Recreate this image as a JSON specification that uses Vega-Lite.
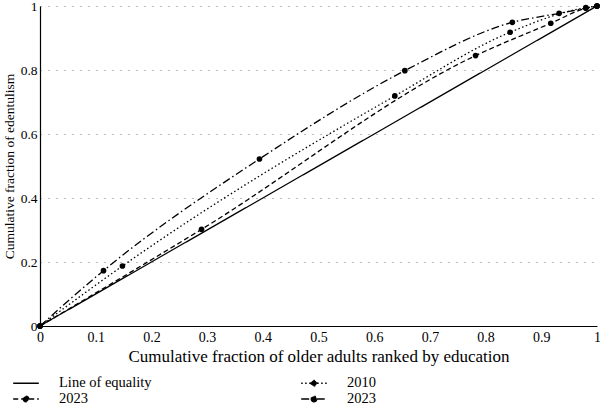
{
  "$schema": "https://vega.github.io/schema/vega-lite/v6.json",
  "width": 557,
  "height": 320,
  "autosize": "none",
  "padding": {"left": 40, "top": 6, "right": 3, "bottom": 79},
  "background": "white",
  "config": {
    "view": {"stroke": null},
    "font": "Liberation Serif",
    "axis": {"labelFont": "Liberation Serif", "titleFont": "Liberation Serif", "labelFontSize": 13, "titleFontSize": 13.5, "titleFontWeight": "normal", "labelColor": "black", "titleColor": "black", "domainColor": "black", "domainWidth": 1.2, "ticks": false},
    "legend": {"labelFont": "Liberation Serif", "labelFontSize": 14.5, "labelColor": "black"}
  },
  "data": {"values": [
    {"series": "Line of equality", "x": 0, "y": 0},
    {"series": "Line of equality", "x": 1, "y": 1},
    {"series": "2023a", "x": 0, "y": 0},
    {"series": "2023a", "x": 0.29, "y": 0.302},
    {"series": "2023a", "x": 0.782, "y": 0.845},
    {"series": "2023a", "x": 0.917, "y": 0.946},
    {"series": "2023a", "x": 0.98, "y": 0.993},
    {"series": "2023a", "x": 1, "y": 1},
    {"series": "2010", "x": 0, "y": 0},
    {"series": "2010", "x": 0.148, "y": 0.1875},
    {"series": "2010", "x": 0.637, "y": 0.719},
    {"series": "2010", "x": 0.844, "y": 0.918},
    {"series": "2010", "x": 0.98, "y": 0.995},
    {"series": "2010", "x": 1, "y": 1},
    {"series": "2023b", "x": 0, "y": 0},
    {"series": "2023b", "x": 0.114, "y": 0.173},
    {"series": "2023b", "x": 0.394, "y": 0.522},
    {"series": "2023b", "x": 0.655, "y": 0.798},
    {"series": "2023b", "x": 0.848, "y": 0.949},
    {"series": "2023b", "x": 0.932, "y": 0.977},
    {"series": "2023b", "x": 1, "y": 1}
  ]},
  "encoding": {
    "x": {"field": "x", "type": "quantitative", "scale": {"domain": [0, 1], "nice": false},
      "axis": {"values": [0, 0.1, 0.2, 0.3, 0.4, 0.5, 0.6, 0.7, 0.8, 0.9, 1], "format": ".1~f", "grid": false, "labelPadding": 4, "labelFontSize": 14, "title": "Cumulative fraction of older adults ranked by education", "titleFontSize": 17, "titlePadding": 4, "labelFlush": false, "labelOverlap": false}},
    "y": {"field": "y", "type": "quantitative", "scale": {"domain": [0, 1], "nice": false},
      "axis": {"values": [0, 0.2, 0.4, 0.6, 0.8, 1], "format": ".1~f", "grid": true, "gridDash": [1, 7], "gridColor": "#777", "gridWidth": 1.2, "labelPadding": 3, "labelFontSize": 13.5, "title": "Cumulative fraction of edentulism", "titlePadding": 4, "labelFlush": false}}
  },
  "layer": [
    {
      "mark": {"type": "line", "color": "black", "strokeWidth": 1.3, "interpolate": "monotone"},
      "encoding": {
        "detail": {"field": "series"},
        "strokeDash": {"field": "series", "type": "nominal",
          "scale": {"domain": ["Line of equality", "2023a", "2010", "2023b"], "range": [[1, 0], [5, 3], [1.5, 2.5], [8, 3, 1.5, 3]]},
          "legend": {"title": null, "orient": "none", "legendX": -23, "legendY": 368, "columns": 2, "columnPadding": 146, "rowPadding": 0, "symbolType": "stroke", "symbolSize": 256, "symbolStrokeWidth": 1.3, "symbolStrokeColor": "black", "labelOffset": 24,
            "labelExpr": "datum.value == '2023a' || datum.value == '2023b' ? '2023' : datum.value",
            "encode": {"symbols": {"update": {"shape": {"signal": "datum.value == 'Line of equality' ? 'M-1.6,0H1.6' : 'M-1.6,0H1.6M-0.35,0A0.35,0.35 0 1,0 0.35,0A0.35,0.35 0 1,0 -0.35,0'"}, "fill": {"signal": "datum.value == 'Line of equality' ? 'transparent' : 'black'"}, "stroke": {"value": "black"}, "strokeWidth": {"value": 1.3}, "opacity": {"value": 1}, "strokeOpacity": {"value": 1}}}}}
        }
      }
    },
    {
      "transform": [{"filter": "datum.series != 'Line of equality'"}],
      "mark": {"type": "point", "filled": true, "color": "black", "size": 32, "opacity": 1}
    }
  ]
}
